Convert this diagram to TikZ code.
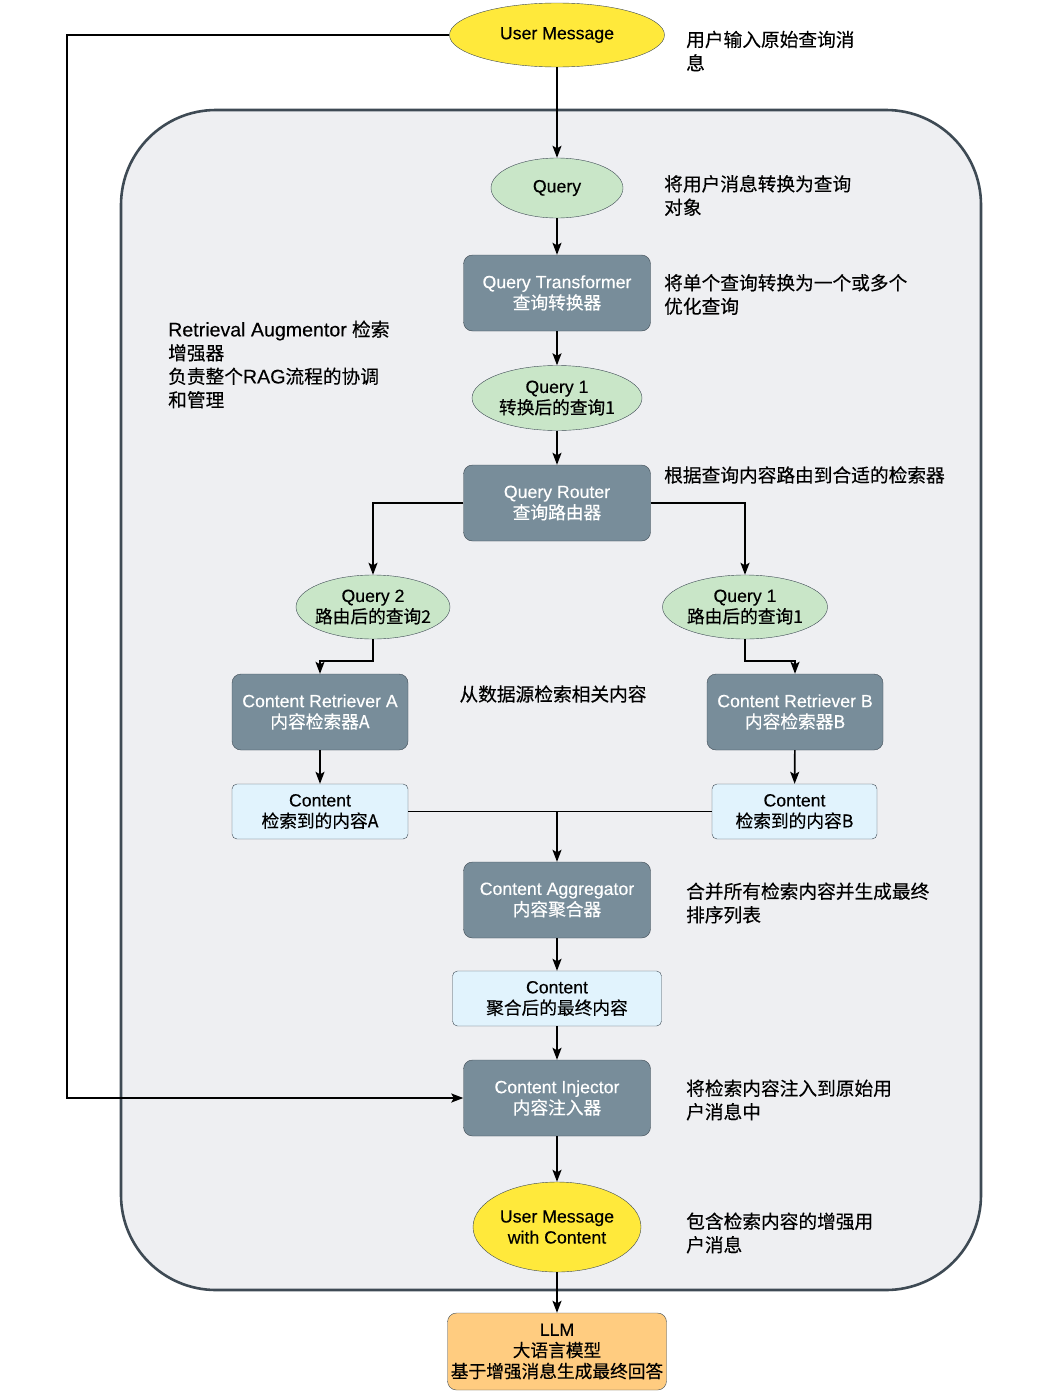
\documentclass[tikz,border=0pt]{standalone}
\usepackage{fontspec}
\setmainfont{Liberation Sans}[FakeBold=0.3]
\newfontfamily\zhfont{Noto Sans CJK SC}[FakeBold=0.3]
\newcommand{\zh}[1]{{\zhfont #1}}
\usetikzlibrary{shapes.geometric,arrows.meta}

\definecolor{boxline}{HTML}{3E4A54}
\definecolor{slate}{HTML}{788D9A}
\definecolor{querygreen}{HTML}{C9E6C8}
\definecolor{msgyellow}{HTML}{FFE93B}
\definecolor{resultblue}{HTML}{E1F3FD}
\definecolor{llmorange}{HTML}{FFCC80}
\definecolor{augmentorbg}{HTML}{EEEFF2}

\begin{document}
\begin{tikzpicture}
                [
                    x=1pt,
                    y=-1pt,
                    every node/.style={font=\fontsize{17.7}{21}\selectfont},
                    component/.style={draw=boxline, thin, fill=slate, text=white,
                        rounded corners=9pt, minimum width=187pt,
                        minimum height=76pt, align=center, inner sep=2pt},
                    query/.style={shape=ellipse, draw=boxline, thin,
                        fill=querygreen, align=center, inner sep=0pt,
                        minimum height=64pt},
                    message/.style={shape=ellipse, draw=boxline, thin,
                        fill=msgyellow, align=center, inner sep=0pt},
                    result/.style={draw=boxline, thin, fill=resultblue,
                        rounded corners=5pt, minimum height=55pt,
                        align=center, inner sep=2pt},
                    note/.style={anchor=west, align=left, inner sep=0pt,
                        font=\fontsize{18.7}{23.5}\selectfont},
                    flow/.style={line width=1.6pt,
                        -{Stealth[length=12pt, width=9pt, inset=2.5pt]}},
                    link/.style={line width=1.6pt},
                    augmentor/.style={draw=boxline, line width=2.6pt,
                        fill=augmentorbg, rounded corners=95pt}
                ]
                \useasboundingbox (0,0) rectangle (1061,1400);

                % retrieval augmentor frame
                \draw [augmentor] (121,110) rectangle (981,1290);

                \node (user msg)
                      [message, minimum width=215pt, minimum height=64pt]
                      at (557,35)
                      {User Message};

                \node (query)
                      [query, below of=user msg, node distance=153pt,
                       minimum width=132pt, minimum height=60pt]
                      {Query};

                \node (transformer)
                      [component, below of=query, node distance=105pt]
                      {Query Transformer\\\zh{查询转换器}};

                \node (query 1)
                      [query, below of=transformer, node distance=105pt,
                       minimum width=170pt, minimum height=65pt]
                      {Query 1\\\zh{转换后的查询1}};

                \node (router)
                      [component, below of=query 1, node distance=105pt]
                      {Query Router\\\zh{查询路由器}};

                \node (query 2 routed)
                      [query, minimum width=154pt, inner xsep=-5pt]
                      at (373,607)
                      {Query 2\\\zh{路由后的查询2}};

                \node (query 1 routed)
                      [query, minimum width=165pt]
                      at (745,607)
                      {Query 1\\\zh{路由后的查询1}};

                \node (retriever A)
                      [component, minimum width=176pt]
                      at (320,712)
                      {Content Retriever A\\\zh{内容检索器A}};

                \node (retriever B)
                      [component, minimum width=176pt]
                      at (795,712)
                      {Content Retriever B\\\zh{内容检索器B}};

                \node (content A)
                      [result, below of=retriever A, node distance=99.5pt,
                       minimum width=176pt]
                      {Content\\\zh{检索到的内容A}};

                \node (content B)
                      [result, minimum width=165pt]
                      at (794.5,811.5)
                      {Content\\\zh{检索到的内容B}};

                \node (aggregator)
                      [component, below of=router, node distance=397pt]
                      {Content Aggregator\\\zh{内容聚合器}};

                \node (final content)
                      [result, below of=aggregator, node distance=98.5pt,
                       minimum width=209pt]
                      {Content\\\zh{聚合后的最终内容}};

                \node (injector)
                      [component, below of=final content, node distance=99.5pt]
                      {Content Injector\\\zh{内容注入器}};

                \node (enhanced msg)
                      [message, below of=injector, node distance=129pt,
                       minimum width=168pt, minimum height=90pt]
                      {User Message\\with Content};

                \node (llm)
                      [component, below of=enhanced msg, node distance=124.5pt,
                       fill=llmorange, text=black, minimum width=219pt,
                       minimum height=77pt]
                      {LLM\\\zh{大语言模型}\\\zh{基于增强消息生成最终回答}};

                % notes
                \node (note user msg)    [note] at (686,51)
                      {\zh{用户输入原始查询消}\\\zh{息}};
                \node (note query)       [note] at (664,195.5)
                      {\zh{将用户消息转换为查询}\\\zh{对象}};
                \node (note transformer) [note] at (664,294.5)
                      {\zh{将单个查询转换为一个或多个}\\\zh{优化查询}};
                \node (note router)      [note] at (664,475)
                      {\zh{根据查询内容路由到合适的检索器}};
                \node (note retriever)   [note, anchor=center] at (553,694)
                      {\zh{从数据源检索相关内容}};
                \node (note aggregator)  [note] at (686,903)
                      {\zh{合并所有检索内容并生成最终}\\\zh{排序列表}};
                \node (note injector)    [note] at (686,1100)
                      {\zh{将检索内容注入到原始用}\\\zh{户消息中}};
                \node (note enhanced)    [note] at (686,1233)
                      {\zh{包含检索内容的增强用}\\\zh{户消息}};
                \node (note augmentor)   [note] at (168,364.5)
                      {{\fontsize{19.6}{23.5}\selectfont Retrieval Augmentor} \zh{检索}\\\zh{增强器}\\
                       \zh{负责整个}{\fontsize{19.6}{23.5}\selectfont RAG}\zh{流程的协调}\\\zh{和管理}};

                \coordinate (loop corner) at (67,35);
                \coordinate (merge) at (557,811.5);

                \path
                (user msg)      edge [flow] (query)
                (query)         edge [flow] (transformer)
                (transformer)   edge [flow] (query 1)
                (query 1)       edge [flow] (router)
                (merge)         edge [flow] (aggregator)
                (aggregator)    edge [flow] (final content)
                (final content) edge [flow] (injector)
                (injector)      edge [flow] (enhanced msg)
                (enhanced msg)  edge [flow] (llm)
                (retriever A)   edge [flow] (content A)
                (retriever B)   edge [flow] (content B)
                (content A)     edge [link] (content B)
                ;

                \draw [flow] (router.west) -| (query 2 routed.north);
                \draw [flow] (router.east) -| (query 1 routed.north);
                \draw [flow] (query 2 routed.south) -- ++(0,22) -| (retriever A.north);
                \draw [flow] (query 1 routed.south) -- ++(0,22) -| (retriever B.north);
                \draw [flow] (user msg.west) -- (loop corner) |- (injector.west);

            \end{tikzpicture}
\end{document}
